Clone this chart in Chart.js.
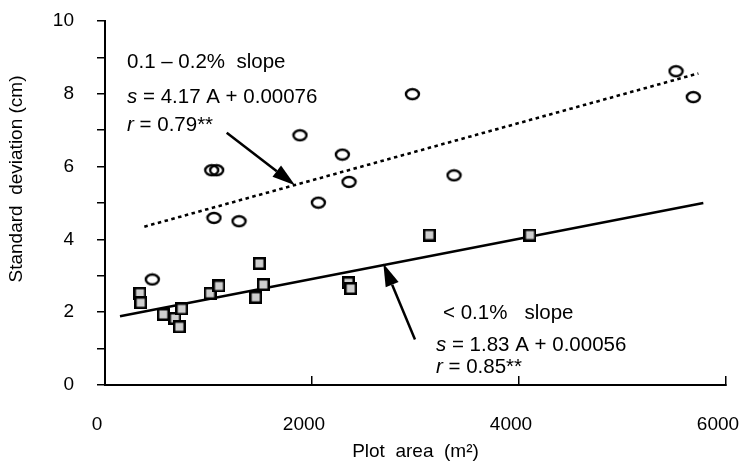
<!DOCTYPE html>
<html>
<head>
<meta charset="utf-8">
<script src="https://cdn.jsdelivr.net/npm/chart.js@4.4.1/dist/chart.umd.min.js"></script>
<style>
  html, body { margin: 0; padding: 0; background: #fff; }
  canvas { display: block; }
</style>
</head>
<body>
<canvas id="sd_chart" width="739" height="469"></canvas>
<script>
// 0.1 - 0.2% slope plots (open circles)
var steepArea = [457, 1031, 1053, 1079, 1295, 1884, 2061, 2293, 2358, 2970, 3372, 5517, 5684];
var steepSd   = [2.90, 5.90, 4.59, 5.90, 4.50, 6.86, 5.01, 6.33, 5.58, 7.99, 5.76, 8.62, 7.91];

// < 0.1% slope plots (shaded squares)
var flatArea = [338, 345, 563, 676, 718, 741, 1015, 1101, 1456, 1491, 1530, 2351, 2374, 3134, 4106];
var flatSd   = [2.52, 2.26, 1.94, 1.83, 1.60, 2.09, 2.52, 2.72, 2.41, 3.34, 2.76, 2.81, 2.65, 4.12, 4.12];

// fitted lines (end points)
var steepFitArea = [380, 5733];
var steepFitSd   = [4.35, 8.56];
var flatFitArea  = [145, 5781];
var flatFitSd    = [1.89, 5.00];

// axis labels
var yLabels = [0, 2, 4, 6, 8, 10];

// equation notes and arrows, in data units
var noteVar  = ['', 's', 'r', '', 's', 'r'];
var noteText = ['0.1 \u2013 0.2%  slope', ' = 4.17 A + 0.00076', ' = 0.79**', '< 0.1%   slope', ' = 1.83 A + 0.00056', ' = 0.85**'];
var noteArea = [213, 213, 213, 3266, 3198, 3198];
var noteSd   = [8.87, 7.91, 7.14, 1.98, 1.10, 0.49];
var arrowFromArea = [1176, 2995];
var arrowFromSd   = [6.93, 1.25];
var arrowToArea   = [1836, 2689];
var arrowToSd     = [5.49, 3.34];

var FONT = '"Liberation Sans", Arial, sans-serif';
Chart.defaults.font.family = FONT;
Chart.defaults.font.size = 19;
Chart.defaults.color = '#000';

function pairs(xs, ys) {
    return xs.map(function (v, i) { return {x: v, y: ys[i]}; });
}

function ringImage() {
    var c = document.createElement('canvas');
    c.width = 17; c.height = 14;
    var g = c.getContext('2d');
    g.lineWidth = 2.4;
    g.strokeStyle = '#000';
    g.beginPath();
    g.ellipse(8.5, 7, 6.5, 5, 0, 0, Math.PI * 2);
    g.stroke();
    return c;
}

function boxImage() {
    var c = document.createElement('canvas');
    c.width = 13; c.height = 13;
    var g = c.getContext('2d');
    g.fillStyle = '#cfcfcf';
    g.fillRect(1, 1, 11, 11);
    g.lineWidth = 2.5;
    g.strokeStyle = '#000';
    g.strokeRect(1.25, 1.25, 10.5, 10.5);
    return c;
}

function drawArrow(ctx, x1, y1, x2, y2) {
    var a = Math.atan2(y2 - y1, x2 - x1);
    var len = 23, half = 7;
    var bx = x2 - len * Math.cos(a), by = y2 - len * Math.sin(a);
    ctx.lineWidth = 2.5;
    ctx.beginPath();
    ctx.moveTo(x1, y1);
    ctx.lineTo(bx, by);
    ctx.stroke();
    ctx.beginPath();
    ctx.moveTo(x2, y2);
    ctx.lineTo(bx + half * Math.sin(a), by - half * Math.cos(a));
    ctx.lineTo(bx - half * Math.sin(a), by + half * Math.cos(a));
    ctx.closePath();
    ctx.fill();
}

var notes = {
    id: 'notes',
    afterDraw: function (chart) {
        var ctx = chart.ctx, sx = chart.scales.x, sy = chart.scales.y;
        ctx.save();
        ctx.fillStyle = '#000';
        ctx.strokeStyle = '#000';
        for (let i = 0; i < arrowFromArea.length; i++) {
            drawArrow(ctx,
                sx.getPixelForValue(arrowFromArea[i]), sy.getPixelForValue(arrowFromSd[i]),
                sx.getPixelForValue(arrowToArea[i]), sy.getPixelForValue(arrowToSd[i]));
        }
        ctx.textBaseline = 'middle';
        ctx.textAlign = 'left';
        for (let i = 0; i < noteText.length; i++) {
            var px = sx.getPixelForValue(noteArea[i]);
            var py = sy.getPixelForValue(noteSd[i]);
            if (noteVar[i]) {
                ctx.font = 'italic 20.5px ' + FONT;
                ctx.fillText(noteVar[i], px, py);
                px += ctx.measureText(noteVar[i]).width;
            }
            ctx.font = '20.5px ' + FONT;
            ctx.fillText(noteText[i], px, py);
        }
        // y axis title
        var area = chart.chartArea;
        ctx.font = '19px ' + FONT;
        ctx.translate(17, (area.top + area.bottom) / 2 - 24);
        ctx.rotate(-Math.PI / 2);
        ctx.textAlign = 'center';
        ctx.fillText('Standard  deviation (cm)', 0, 0);
        ctx.restore();
    }
};

let sdChart = new Chart(document.getElementById('sd_chart'), {
    type: 'scatter',
    data: {
        datasets: [
            {
                label: '0.1-0.2% slope',
                data: pairs(steepArea, steepSd),
                pointStyle: ringImage(),
                pointRadius: 6,
                showLine: false
            },
            {
                label: '< 0.1% slope',
                data: pairs(flatArea, flatSd),
                pointStyle: boxImage(),
                pointRadius: 6,
                showLine: false
            },
            {
                label: 'fit 0.1-0.2%',
                data: pairs(steepFitArea, steepFitSd),
                showLine: true,
                pointRadius: 0,
                borderColor: '#000',
                borderWidth: 2.6,
                borderDash: [3.5, 3.5]
            },
            {
                label: 'fit < 0.1%',
                data: pairs(flatFitArea, flatFitSd),
                showLine: true,
                pointRadius: 0,
                borderColor: '#000',
                borderWidth: 2.4
            }
        ]
    },
    options: {
        responsive: false,
        animation: false,
        devicePixelRatio: 1,
        layout: { padding: { top: 21, right: 13, bottom: 0, left: 0 } },
        plugins: {
            legend: { display: false },
            tooltip: { enabled: false }
        },
        scales: {
            x: {
                type: 'linear',
                min: 0,
                max: 6000,
                border: { color: '#000', width: 2 },
                grid: { drawOnChartArea: false, drawTicks: true, tickLength: -9, color: '#000', lineWidth: 1.5 },
                ticks: {
                    stepSize: 2000,
                    padding: 37,
                    labelOffset: -8,
                    maxRotation: 0,
                    callback: function (v) { return String(v); }
                },
                title: { display: true, text: 'Plot  area  (m\u00b2)', padding: { top: 0, bottom: 6 } },
                afterFit: function (scale) {
                    scale.height = 84;
                    scale.paddingLeft = 0;
                    scale.paddingRight = 0;
                }
            },
            y: {
                type: 'linear',
                min: 0,
                max: 10,
                border: { color: '#000', width: 2 },
                grid: { drawOnChartArea: false, drawTicks: true, tickLength: 8, color: '#000', lineWidth: 1.5 },
                ticks: {
                    stepSize: 1,
                    padding: 23,
                    callback: function (v) { return yLabels.indexOf(v) >= 0 ? String(v) : ''; }
                },
                afterFit: function (scale) {
                    scale.width = 105;
                    scale.paddingTop = 0;
                    scale.paddingBottom = 0;
                }
            }
        }
    },
    plugins: [notes]
});
</script>
</body>
</html>
